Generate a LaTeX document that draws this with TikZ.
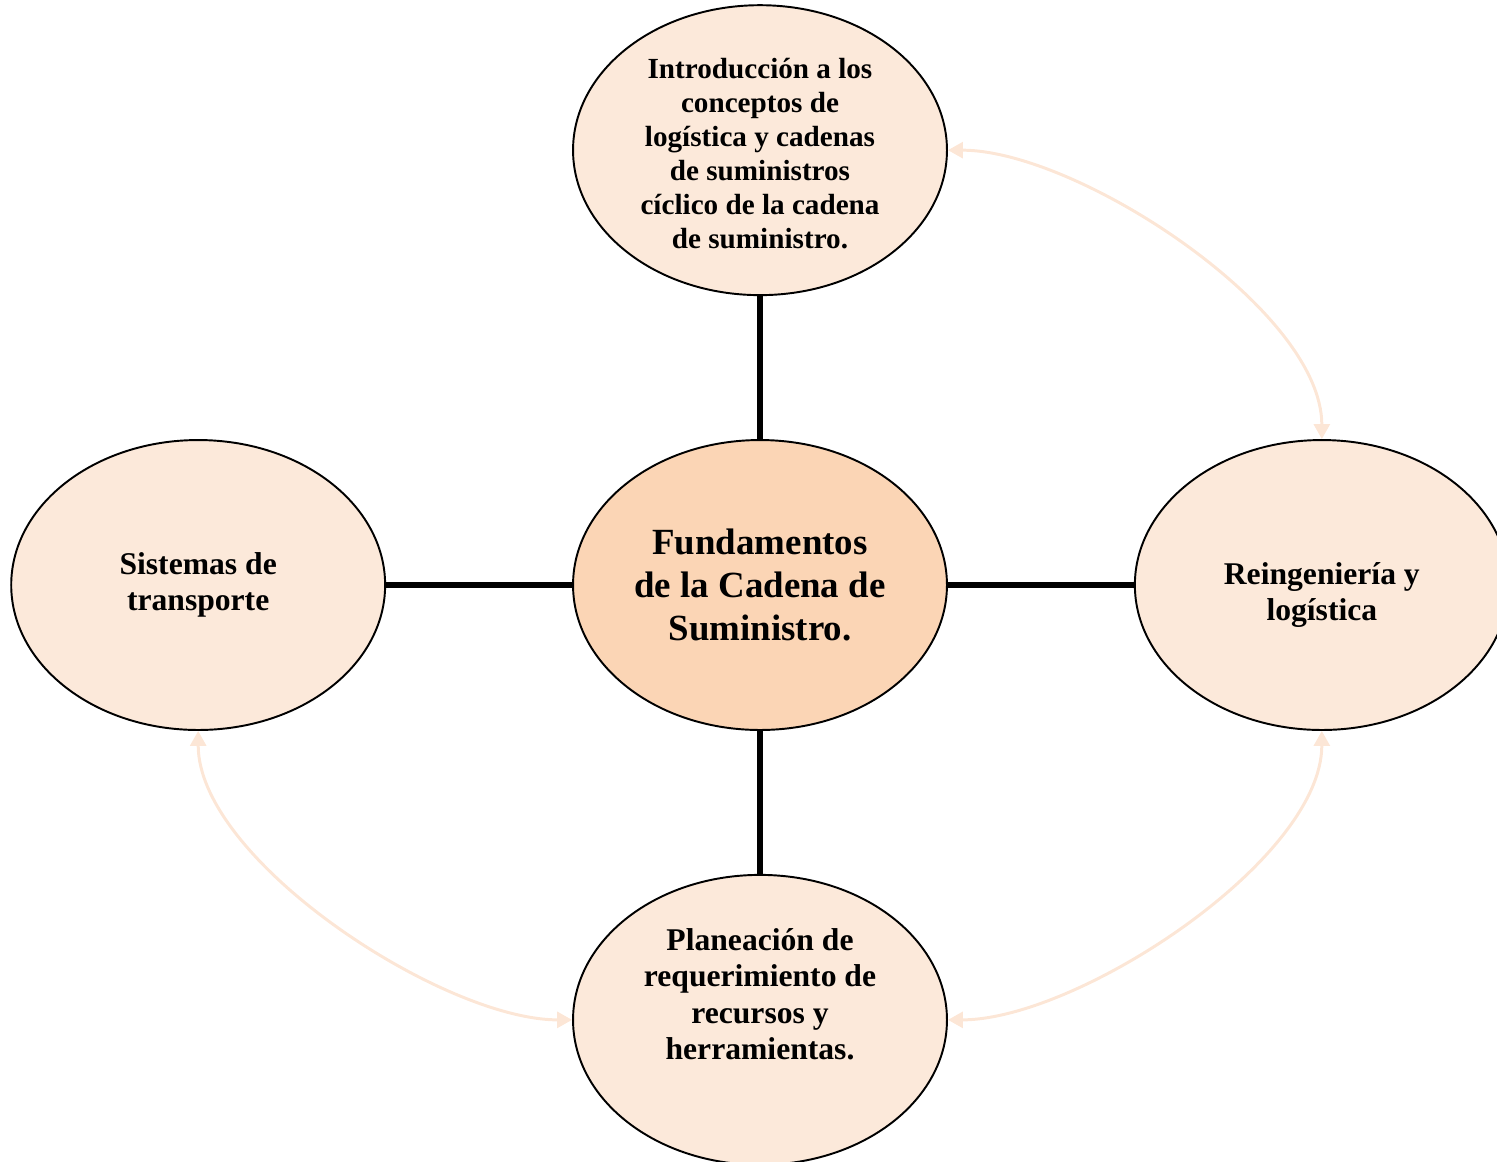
\documentclass[tikz,border=0pt]{standalone}
\usepackage{fontspec}
\setmainfont{Liberation Serif}
\usetikzlibrary{arrows.meta, positioning, shapes.geometric}

\definecolor{peachhub}{RGB}{251,213,181}
\definecolor{peachlight}{RGB}{252,233,218}
\definecolor{peachlink}{RGB}{252,230,214}

\begin{document}
\begin{tikzpicture}[
  x=0.02cm, y=-0.02cm,
  bubble/.style = {ellipse, draw, line width=1.1pt, fill=peachlight, minimum width=7.48cm, minimum height=5.8cm, inner sep=0pt, align=center, font=\bfseries\fontsize{18}{20.7}\selectfont},
  hub/.style = {bubble, fill=peachhub, font=\bfseries\fontsize{21}{24.4}\selectfont},
  spoke/.style = {line width=3.2pt},
  link/.style = {line width=1.7pt, draw=peachlink, {Triangle[length=0.3cm,width=0.32cm]}-{Triangle[length=0.3cm,width=0.32cm]}, looseness=0.7},
  node distance=2.86cm and 3.72cm
]
  \useasboundingbox (0,0) rectangle (1497,1161);

  % Centre
  \node[hub] (fund) at (760,585) {Fundamentos\\de la Cadena de\\Suministro.};

  % Topics
  \node[bubble, above=of fund, font=\bfseries\fontsize{16.6}{19.3}\selectfont, text height=112pt] (intro) {Introducción a los\\conceptos de\\logística y cadenas\\de suministros\\cíclico de la cadena\\de suministro.};
  \node[bubble, left=of fund] (transp) {Sistemas de\\transporte};
  \node[bubble, right=of fund, text height=44.6pt] (reing) {Reingeniería y\\logística};
  \node[bubble, below=of fund, text depth=29.4pt] (plan) {Planeación de\\requerimiento de\\recursos y\\herramientas.};

  % Spokes
  \draw[spoke] (fund) -- (intro);
  \draw[spoke] (fund) -- (transp);
  \draw[spoke] (fund) -- (reing);
  \draw[spoke] (fund) -- (plan);

  % Links
  \draw[link] (intro.east) to[out=0, in=90] (reing.north);
  \draw[link] (reing.south) to[out=-90, in=0] (plan.east);
  \draw[link] (transp.south) to[out=-90, in=180] (plan.west);

\end{tikzpicture}
\end{document}
